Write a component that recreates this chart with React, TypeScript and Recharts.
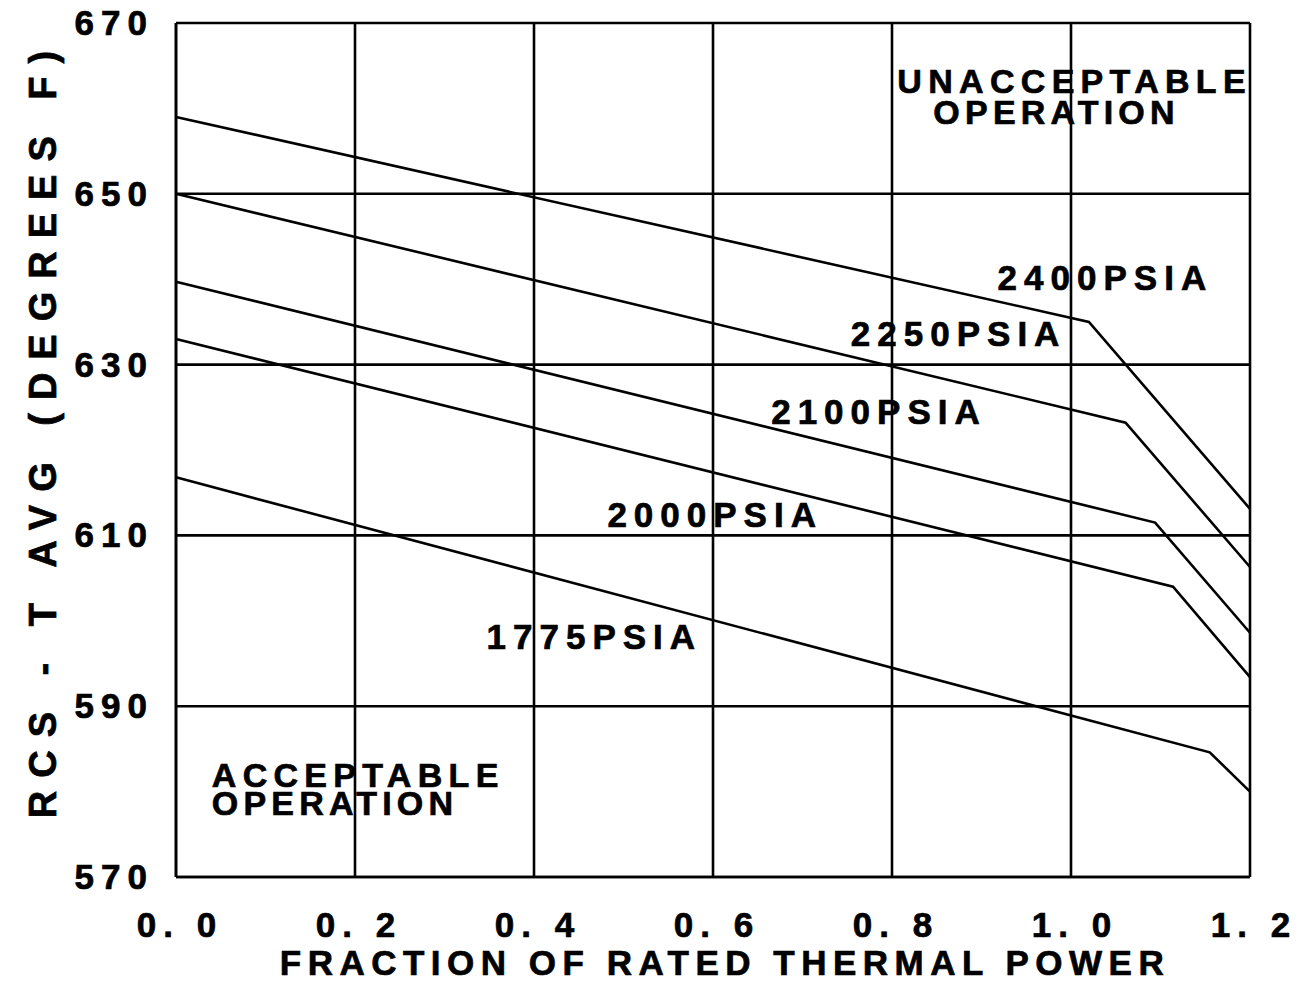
import { LineChart, Line, XAxis, YAxis, CartesianGrid, ReferenceDot } from 'recharts';

// breakpoints of each pressure curve: fraction of rated thermal power -> Tavg (deg F)
const p2400X = [0, 1.02, 1.2];
const p2400Y = [659, 635, 613.1];
const p2250X = [0, 1.061, 1.2];
const p2250Y = [650, 623.2, 606.3];
const p2100X = [0, 1.094, 1.2];
const p2100Y = [639.7, 611.5, 598.6];
const p2000X = [0, 1.114, 1.2];
const p2000Y = [633, 604, 593.4];
const p1775X = [0, 1.155, 1.2];
const p1775Y = [616.8, 584.6, 580];

const xTicks = [0, 0.2, 0.4, 0.6, 0.8, 1.0, 1.2];
const yTicks = [570, 590, 610, 630, 650, 670];

const toRows = (xs: number[], ys: number[]) => xs.map((x, i) => ({ x, y: ys[i] }));

const series = [
  { name: '2400PSIA', data: toRows(p2400X, p2400Y) },
  { name: '2250PSIA', data: toRows(p2250X, p2250Y) },
  { name: '2100PSIA', data: toRows(p2100X, p2100Y) },
  { name: '2000PSIA', data: toRows(p2000X, p2000Y) },
  { name: '1775PSIA', data: toRows(p1775X, p1775Y) },
];

// curve labels, anchored at left end of baseline
const curveNotes = [
  { text: '2400PSIA', x: 0.918, y: 638.7 },
  { text: '2250PSIA', x: 0.754, y: 632.2 },
  { text: '2100PSIA', x: 0.665, y: 623.0 },
  { text: '2000PSIA', x: 0.482, y: 611.0 },
  { text: '1775PSIA', x: 0.347, y: 596.7 },
];

// region labels (two lines each)
const regionNotes = [
  { first: 'UNACCEPTABLE', second: 'OPERATION', x: 0.806, y: 661.8, dx2: 36, dy2: 31 },
  { first: 'ACCEPTABLE', second: 'OPERATION', x: 0.04, y: 580.5, dx2: 0, dy2: 28 },
];

const font = '"Liberation Sans", Arial, Helvetica, sans-serif';
const ink = { fill: '#000', stroke: '#000', strokeWidth: 0.7, fontFamily: font, fontWeight: 'bold' as const };

const YTick = ({ x, y, payload }: any) => (
  <text x={x} y={y} dy={12} textAnchor="end" fontSize={35} letterSpacing={7} {...ink}>
    {payload.value}
  </text>
);

const XTick = ({ x, y, payload }: any) => (
  <text x={x + 4} y={y + 58} textAnchor="middle" fontSize={35} letterSpacing={7} {...ink}>
    {Number(payload.value).toFixed(1).replace('.', '. ')}
  </text>
);

export default function App() {
  return (
    <div style={{ marginTop: -8 }}>
      <LineChart width={1290} height={983} margin={{ top: 23, right: 48, bottom: 0, left: 0 }}>
        <CartesianGrid stroke="#000" strokeWidth={2.6} />
        <XAxis
          type="number"
          dataKey="x"
          domain={[0, 1.2]}
          ticks={xTicks}
          height={106}
          tickLine={false}
          tickSize={0}
          tick={<XTick />}
          axisLine={{ stroke: '#000', strokeWidth: 2.6 }}
          label={{
            content: ({ viewBox }: any) => (
              <text
                x={viewBox.x + viewBox.width / 2 + 12}
                y={viewBox.y + 98}
                textAnchor="middle"
                fontSize={35}
                letterSpacing={6.5}
                {...ink}
              >
                FRACTION OF RATED THERMAL POWER
              </text>
            ),
          }}
        />
        <YAxis
          type="number"
          domain={[570, 670]}
          ticks={yTicks}
          width={168}
          tickLine={false}
          tickSize={0}
          tickMargin={22}
          tick={<YTick />}
          axisLine={{ stroke: '#000', strokeWidth: 2.6 }}
          label={{
            content: () => (
              <text
                x={34}
                y={428}
                dy={14}
                transform="rotate(-90, 34, 428)"
                textAnchor="middle"
                fontSize={38}
                letterSpacing={13}
                {...ink}
              >
                RCS - T AVG (DEGREES F)
              </text>
            ),
          }}
        />
        {series.map((s) => (
          <Line
            key={s.name}
            data={s.data}
            dataKey="y"
            type="linear"
            stroke="#000"
            strokeWidth={2.6}
            dot={false}
            isAnimationActive={false}
          />
        ))}
        {curveNotes.map((n) => (
          <ReferenceDot
            key={n.text}
            x={n.x}
            y={n.y}
            r={0}
            shape={(p: any) => (
              <text x={p.cx} y={p.cy} fontSize={35} letterSpacing={7} {...ink}>
                {n.text}
              </text>
            )}
          />
        ))}
        {regionNotes.map((n) => (
          <ReferenceDot
            key={n.first}
            x={n.x}
            y={n.y}
            r={0}
            shape={(p: any) => (
              <text x={p.cx} y={p.cy} fontSize={34} letterSpacing={6.3} {...ink}>
                <tspan x={p.cx}>{n.first}</tspan>
                <tspan x={p.cx + n.dx2} dy={n.dy2} letterSpacing={5.2}>
                  {n.second}
                </tspan>
              </text>
            )}
          />
        ))}
      </LineChart>
    </div>
  );
}
